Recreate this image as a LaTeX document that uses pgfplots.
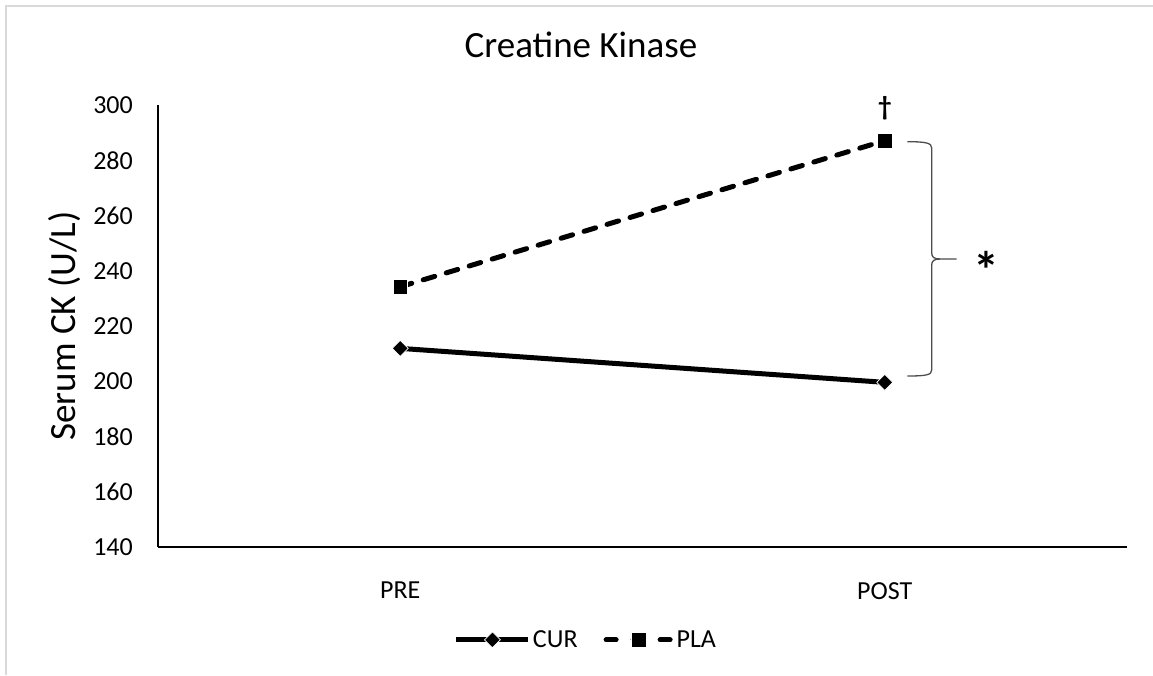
\documentclass[border=0pt]{standalone}
\usepackage{fontspec}
\setmainfont{Carlito}
\usepackage{pgfplots}
\pgfplotsset{compat=1.18}
\definecolor{framegray}{RGB}{217,217,217}
\pgfplotsset{
  plalegend/.style={legend image code/.code={\draw[mark repeat=2,mark phase=2,##1, dash pattern=on 10pt off 17pt] plot coordinates {(2pt,0pt) (35pt,0pt) (68pt,0pt)};}}
}
\begin{document}
\begin{tikzpicture}
\useasboundingbox (-158pt,-128pt) rectangle (995pt,547pt);
\draw[framegray, line width=2pt] (-152pt,-128pt) -- (-152pt,541pt) -- (995pt,541pt);
\begin{axis}[
  at={(0pt,0pt)}, anchor=south west,
  scale only axis, width=969pt, height=442pt,
  xmin=-0.5, xmax=1.5, ymin=140, ymax=300,
  xtick={0,1}, xticklabels={PRE,POST},
  ytick={140,160,...,300},
  axis x line*=bottom, axis y line*=left,
  x axis line style={line width=2.5pt},
  y axis line style={line width=2pt},
  major tick length=0pt,
  /pgf/number format/assume math mode=true,
  yticklabel style={font=\fontsize{26}{31}\selectfont, inner sep=0pt, anchor=east, xshift=-25pt},
  xticklabel style={font=\fontsize{26}{31}\selectfont, inner sep=0pt, anchor=north, yshift=-35pt},
  title={Creatine Kinase},
  title style={at={(axis description cs:0.4365,1.122)}, anchor=center, font=\fontsize{37}{44}\selectfont},
  ylabel={Serum CK (U/L)},
  ylabel style={at={(axis description cs:-0.096,0.5)}, anchor=center, font=\fontsize{37}{44}\selectfont},
  legend style={at={(axis description cs:0.4417,-0.21)}, anchor=center, draw=none,
    font=\fontsize{26}{31}\selectfont, nodes={inner sep=2pt},
    /tikz/every even column/.append style={column sep=24pt}},
  legend columns=2,
  legend image code/.code={\draw[mark repeat=2,mark phase=2,#1] plot coordinates {(0pt,0pt) (36pt,0pt) (72pt,0pt)};},
  clip=false,
]
\addplot[black, line width=5pt, mark=square*, mark size=5.6pt,
  mark options={rotate=45, fill=black, draw=white, line width=0.7pt}]
  coordinates {(0,211.9) (1,199.6)};
\addlegendentry{CUR}
\addplot[black, line width=5pt, dash pattern=on 12pt off 12pt, line cap=round,
  mark=square*, mark size=7.4pt,
  mark options={solid, fill=black, draw=white, line width=0.6pt}, plalegend]
  coordinates {(0,234.2) (1,287.1)};
\addlegendentry{PLA}
\node[inner sep=0pt, anchor=center, font=\fontsize{27}{32}\selectfont\bfseries] at (axis cs:1,298.9) {†};
\end{axis}
\draw[black!70, line width=1.3pt] (749.3pt,405.3pt) .. controls (768pt,405.3pt) and (773.7pt,404pt) .. (773.7pt,399pt) -- (773.7pt,294pt) .. controls (773.7pt,290pt) and (776pt,288pt) .. (782pt,288pt) -- (798.7pt,288pt);
\draw[black!70, line width=1.3pt] (782pt,288pt) .. controls (776pt,288pt) and (773.7pt,286pt) .. (773.7pt,282pt) -- (773.7pt,177pt) .. controls (773.7pt,172pt) and (768pt,171pt) .. (749.3pt,171pt);
\node[inner sep=0pt, anchor=north, font=\fontsize{52}{60}\selectfont\bfseries] at (828pt,296pt) {*};
\end{tikzpicture}
\end{document}
